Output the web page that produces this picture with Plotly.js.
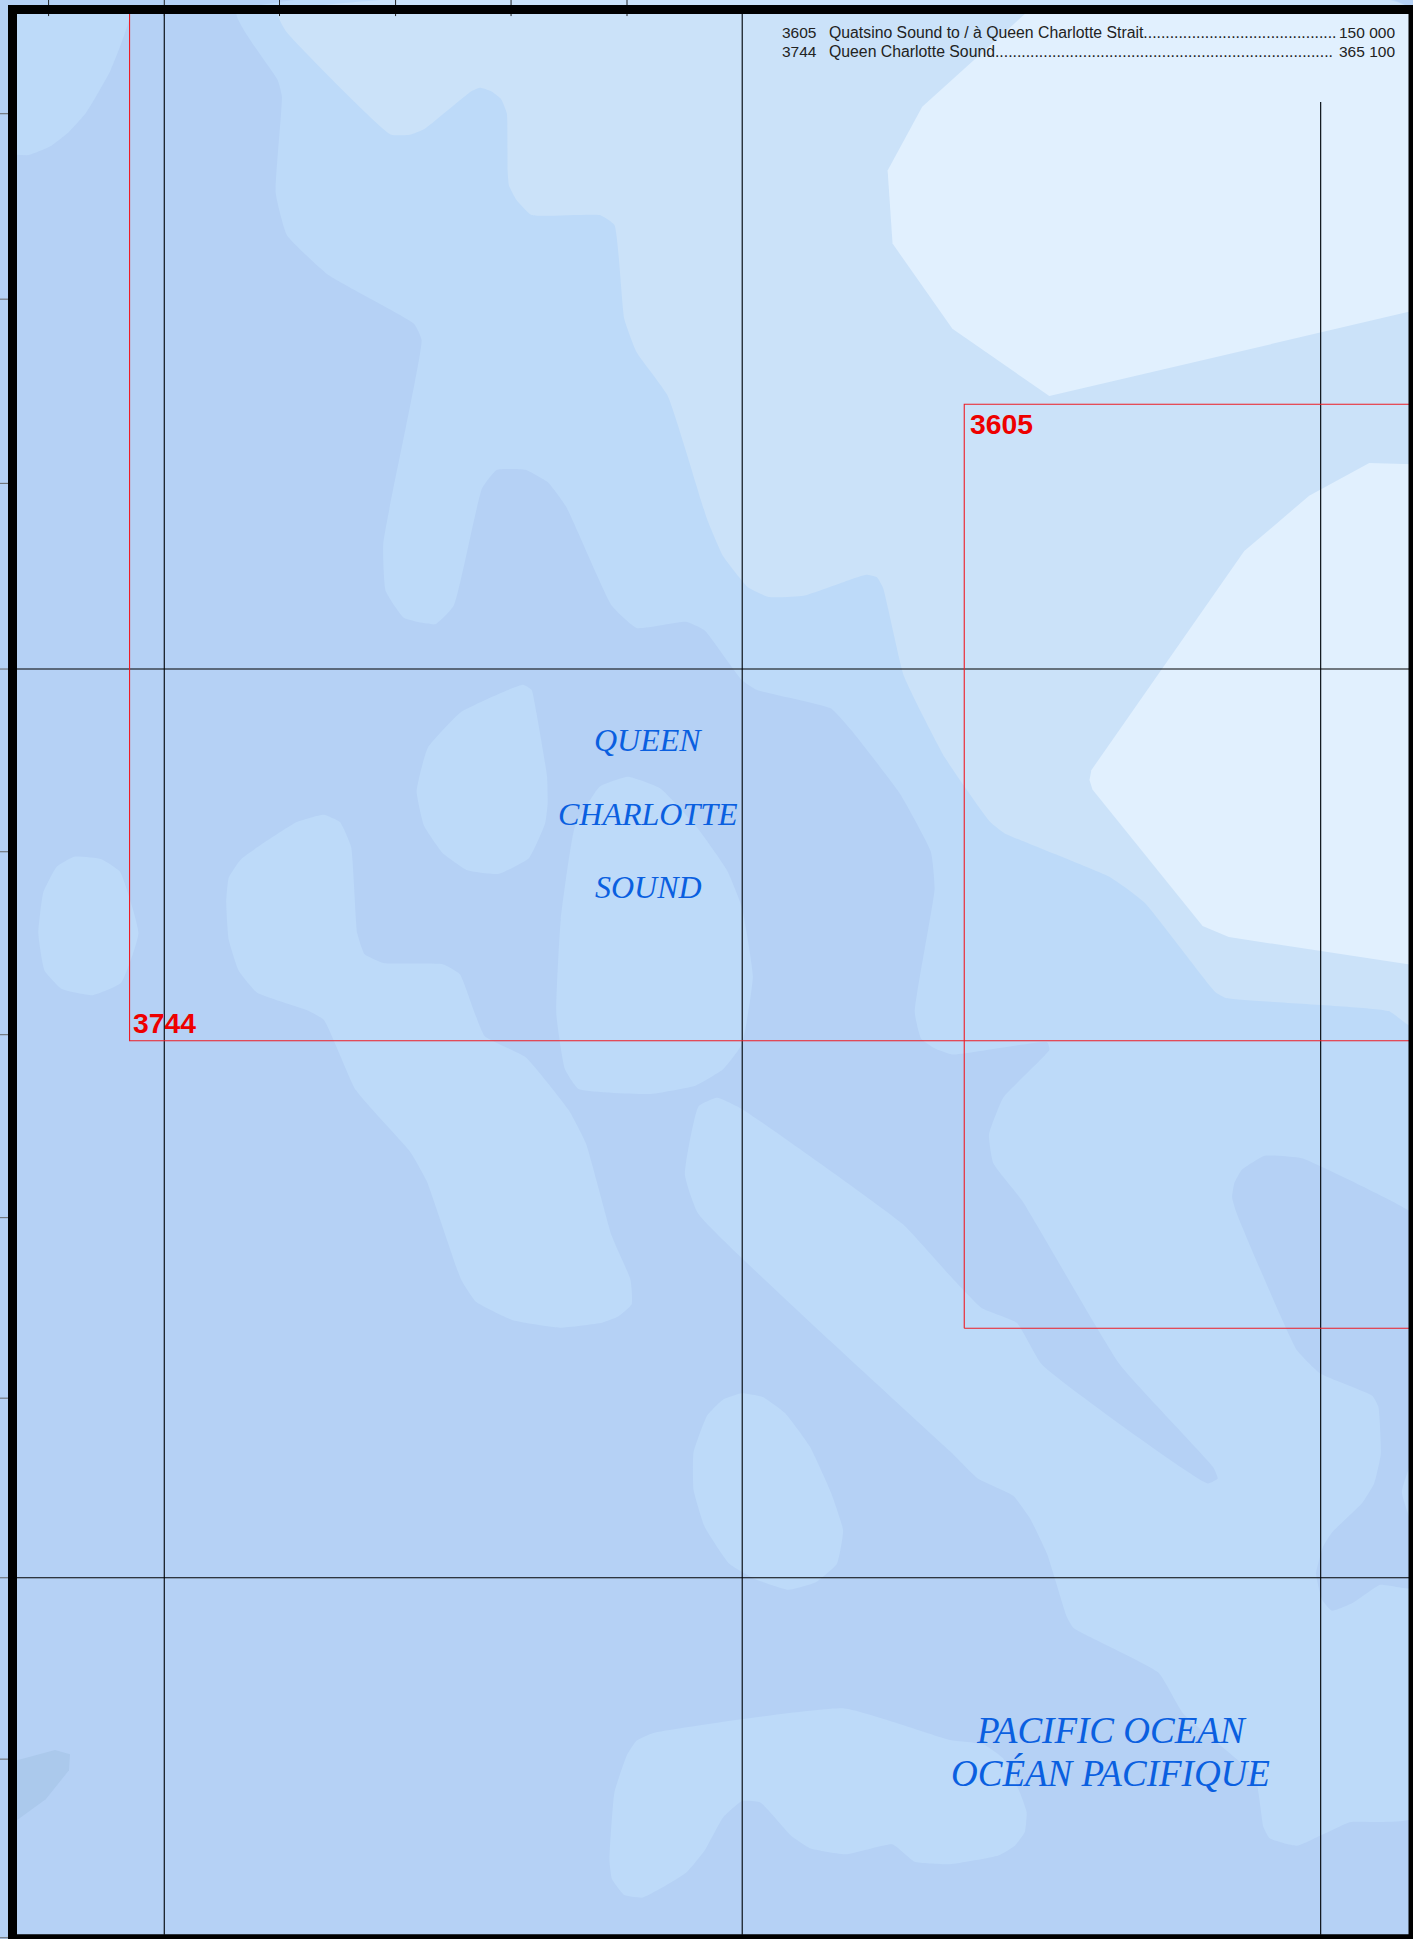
<!DOCTYPE html>
<html><head><meta charset="utf-8">
<script src="https://cdn.plot.ly/plotly-3.0.1.min.js"></script>
<style>html,body{margin:0;padding:0;background:#fff}</style></head>
<body><div id="chart" style="width:1413px;height:1939px"></div>
<script>
// Depth zones in map units
const seaX=[0,1143,1143,0], seaY=[0,0,1569,1569];
const shelfMainX=[191.4,224.6,228,223,232,265,335,341,310,312,327,352,367,390,402,425,443,458,495,515,555,570,600,612,672,688,728,753,756,740,745,756,770,847,849,811.5,800,803.5,826.6,906,981.5,985,977,843,822.5,794,768.5,730,600,580,565,554,565,768.5,791,819.6,833,847,863,868.5,937,957,1015,1022,1027,1049,1092,1145,1145,191.4];
const shelfMainY=[10,64.7,78,156,190,222,262,275,440,478,500,505,490,395,380,380,390,410,490,508,503,510,550,558,573,590,642,689,719,819,840,848,853,843,849,888,918,941,971,1104,1187,1196,1200,1104,1070,1058,1032,990,897,888,895,950,982,1174,1196,1210,1228,1257,1308,1317,1353,1386,1437,1478,1487,1493,1474,1470,10,10];
const shelfCornerX=[10,23.5,40.4,56,69.3,89.6,104.7,10];
const shelfCornerY=[125,125.4,118.6,106.5,91.7,56.6,10,10];
const moundAX=[423,430,434,442.5,443,441,428,403,378,358,343,337,346,373,423];
const moundAY=[554,558,577,628,650,666,694,707,704,690,668,640,605,576,554];
const moundBX=[508,485,465,453.6,450,457,468,525,563,585,600,609,600,588,563.6,534,508];
const moundBY=[628.3,636.4,669,744,820,865,881,885,878,865,845,790,733.6,703.8,669,637.6,628.3];
const moundCX=[60,82,97,112,98,75,50,36,31,35,46,60];
const moundCY=[693,695,705,755,795,805,800,785,755,722,701,693];
const moundDX=[185,195,240,262,275,284,289,295,310,358,372,392,425,460,474,495,510,511,500,487,453,415,385,373,345,332,288,262,248,208,193,185,183,185];
const moundDY=[710,695,665,659,665,685,755,772,779,780,788,838,855,898,925,1000,1035,1055,1065,1070,1074,1068,1053,1035,955,932,882,825,817,803,785,760,730,710];
const moundEX=[600,617,635,655,672,682,677,660,638,610,590,570,561,561,572,585,600];
const moundEY=[1127,1130,1143,1170,1207,1238,1265,1280,1286,1277,1265,1235,1205,1175,1145,1132,1127];
const moundFX=[528,683,768.5,795.5,811.7,825,830.5,829,821,807.6,768.5,740,722,685,655,640,615,600,585,570,555,520,505,495,493,497,507,515,528];
const moundFY=[1402,1382,1407.5,1411,1422.6,1450,1466,1482,1493,1501,1508,1506,1492,1500,1495,1485,1458,1457,1470,1497,1515,1535,1533,1520,1505,1450,1420,1408,1402];
const basinX=[1023,1053,1124.5,1145,1145,1134,1145,1145,1116.5,1094.5,1077.5,1069.5,1064.6,1070.5,1077.5,1101.7,1111.6,1117,1115,1110,1068,1049,1000.6,996.7,998.5,1004.4,1023];
const basinY=[935,937,971,984,1170.6,1207,1243.5,1285,1282,1296.6,1303,1294,1273,1250.6,1239.6,1216,1200,1176,1138,1129,1111,1092,982,968.6,957,946.5,935];
const coastX=[224.6,231,316,331.6,343,381,388,397,405.3,410,410.6,411.7,417.8,430,485,497,505,515,540,572,585,605,622,650,687.6,700.7,709.4,714.4,731.3,764.5,801,812.5,898,925.8,983.3,991.8,1123.3,1145,1145,224.6];
const coastY=[10,24.8,108.7,109,104.6,74,71,73.6,80,91.7,137.5,150,161.8,174,174,182,258,285,320,420,450,475,483,482,469,465,467,475.8,547,613,665,674,709.6,730,802.6,807.3,817.9,832,10,10];
const nearNorthX=[830.5,746,718,722,770.4,848.8,1145,1145];
const nearNorthY=[10,86.3,138,197,266,320.4,251,10];
const nearSouthX=[1145,994,972.8,883.7,881.3,882.8,1006.5,1059,1107.6,1145];
const nearSouthY=[781,758,749,638.7,631,623,445.8,401,374.6,375.6];
const deepX=[10,44.5,56.6,55.8,37,10];
const deepY=[1425,1415.7,1419,1432,1455.5,1475];

// Graticule and chart limits
const meridians=[132.9,600.4,1068.3];
const meridianTops=[11,11,82.5];
const parallels=[541.2,1276.3];
const topTicks=[39.3,132.9,226.1,320,413.4,507.2];
const sideTicks=[92,242,391,541.2,689,837,985,1131,1276.3,1423,1567.5];
const chart3605={x:[780,780,1145],y:[1074.5,327,327]};
const chart3605b={x:[780,1145],y:[1074.5,1074.5]};
const chart3744={x:[104.8,104.8,1145],y:[10,841.9,841.9]};

// Text
const chartNumbers=['3605','3744'];
const chartNames=['Quatsino Sound to / à Queen Charlotte Strait'+'.'.repeat(44),'Queen Charlotte Sound'+'.'.repeat(77)];
const chartScales=['150 000','365 100'];
const seaNames=['QUEEN','CHARLOTTE','SOUND','PACIFIC OCEAN','OCÉAN PACIFIQUE'];

const COL={base:'#b5d1f5',mid:'#bddaf9',light:'#cbe2f9',near:'#e1f0fe',deep:'#abc9ec'};
const U=1413/1143; // page pixels per map unit
const traces=[];
function area(x,y,c,soft){traces.push({type:'scatter',mode:'lines',x:x,y:y,fill:'toself',fillcolor:c,line:{width:0,color:c,shape:soft?'spline':'linear',smoothing:0.4},hoverinfo:'skip',showlegend:false});}
function line(x,y,c,w){traces.push({type:'scatter',mode:'lines',x:x,y:y,line:{width:w,color:c,simplify:false},hoverinfo:'skip',showlegend:false});}

area(seaX,seaY,COL.base);
area(shelfMainX,shelfMainY,COL.mid,true);
area(shelfCornerX,shelfCornerY,COL.mid,true);
[[moundAX,moundAY],[moundBX,moundBY],[moundCX,moundCY],[moundDX,moundDY],[moundEX,moundEY],[moundFX,moundFY]].forEach(p=>area(p[0],p[1],COL.mid,true));
area(basinX,basinY,COL.base,true);
area(coastX,coastY,COL.light,true);
area(nearNorthX,nearNorthY,COL.near);
area(nearSouthX,nearSouthY,COL.near);
area(deepX,deepY,COL.deep);

meridians.forEach((m,i)=>line([m,m],[meridianTops[i],1565],'#0c1118',1.2));
parallels.forEach(p=>line([10,1145],[p,p],'#000',1.1));
topTicks.forEach(t=>line([t,t],[0,13],'#222',1));
sideTicks.forEach(t=>line([0,7],[t,t],'#666',1));
line(chart3744.x,chart3744.y,'#ee1c25',1.1);
line(chart3605.x,chart3605.y,'#ee1c25',1.1);
line(chart3605b.x,chart3605b.y,'#ee1c25',1.1);

const sans='"Liberation Sans",Arial,sans-serif', serif='"Liberation Serif","Times New Roman",serif';
const ann=[];
function label(text,px,base,size,family,color,anchor,style,weight,asc,desc){
  ann.push({text:text,x:px/U,y:(base-(asc-desc)/2*size)/U,xref:'x',yref:'y',xanchor:anchor,yanchor:'middle',showarrow:false,borderpad:0,borderwidth:0,
    font:{family:family,size:size,color:color,style:style||'normal',weight:weight||'normal'}});
}
const ink='#222', sea='#0a5fe0', red='#ee0000';
[0,1].forEach(i=>{
  const b=[38,56.5][i];
  label(chartNumbers[i],781.7,b,15.5,sans,ink,'left','normal','normal',.905,.212);
  label(chartNames[i],828.7,b,15.8,sans,ink,'left','normal','normal',.905,.212);
  label(chartScales[i],1395.4,b,15.5,sans,ink,'right','normal','normal',.905,.212);
});
label(chartNumbers[0],970.3,434,28.3,sans,red,'left','normal','bold',.905,.212);
label(chartNumbers[1],133,1032.7,28.3,sans,red,'left','normal','bold',.905,.212);
label(seaNames[0],648,750.7,32,serif,sea,'center','italic','normal',.891,.216);
label(seaNames[1],648,825,32,serif,sea,'center','italic','normal',.891,.216);
label(seaNames[2],648,898.3,32,serif,sea,'center','italic','normal',.891,.216);
label(seaNames[3],1111,1742.7,37,serif,sea,'center','italic','normal',.891,.216);
label(seaNames[4],1110,1785.8,37,serif,sea,'center','italic','normal',.891,.216);

Plotly.newPlot('chart',traces,{
  width:1413,height:1939,margin:{l:0,r:0,t:0,b:0,pad:0},
  paper_bgcolor:'#fff',plot_bgcolor:'#fff',showlegend:false,
  xaxis:{range:[0,1143],visible:false,fixedrange:true},
  yaxis:{range:[1568.5,0],visible:false,fixedrange:true},
  annotations:ann,
  shapes:[{type:'rect',xref:'x',yref:'y',x0:12.5/U,y0:9.5/U,x1:1413/U,y1:1938.8/U,line:{color:'#000',width:9},fillcolor:'rgba(0,0,0,0)'}]
},{staticPlot:true,displayModeBar:false});
</script></body></html>
